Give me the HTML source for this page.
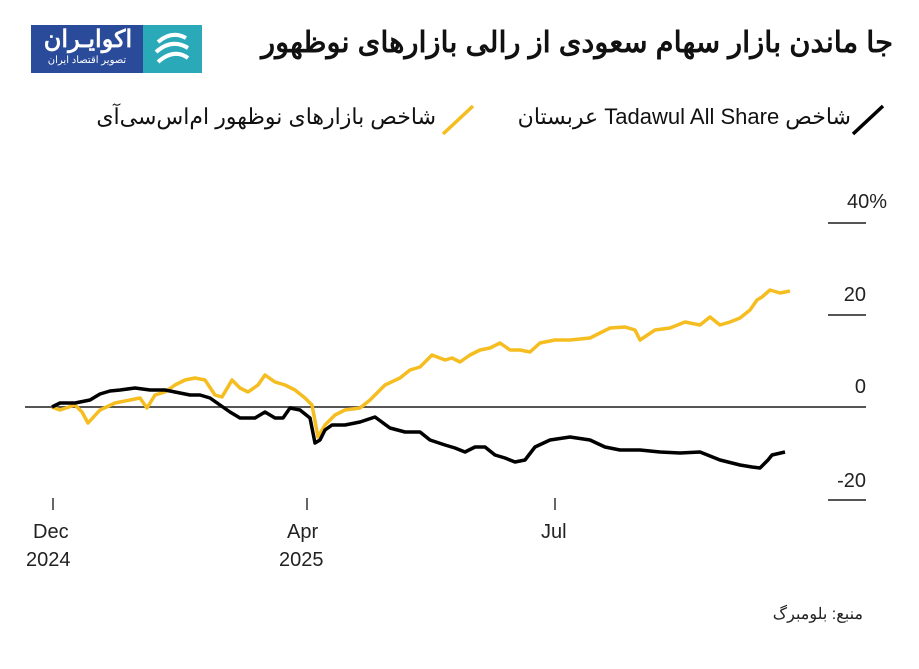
<!DOCTYPE html><html><head><meta charset="utf-8"><style>
body{margin:0;width:919px;height:669px;background:#fff;overflow:hidden;font-family:"Liberation Sans","Noto Sans CJK SC",sans-serif;position:relative}
.t{position:absolute;white-space:nowrap}
</style></head><body>
<div style="position:absolute;left:31px;top:25px;width:112px;height:48px;background:#2a4a9a"></div>
<div style="position:absolute;left:143px;top:25px;width:59px;height:48px;background:#2aaab8"></div>
<div class="t" style="left:38px;top:25px;color:#fff;font-size:24px;font-weight:bold;direction:rtl;width:100px;text-align:center">اکوایـران</div>
<div class="t" style="left:36px;top:55px;color:#fff;font-size:10px;direction:rtl;width:102px;text-align:center">تصویر اقتصاد ایران</div>
<svg style="position:absolute;left:150px;top:30px" width="45" height="38"><path d="M8 12 Q22 0 36 8 M6 22 Q22 8 38 18 M8 32 Q24 18 38 28" stroke="#fff" stroke-width="4" fill="none"/></svg>
<div class="t" style="right:26px;top:25px;font-size:29px;font-weight:bold;direction:rtl;color:#111">جا ماندن بازار سهام سعودی از رالی بازارهای نوظهور</div>
<svg style="position:absolute;left:850px;top:103px" width="36" height="34"><line x1="3" y1="31" x2="33" y2="3" stroke="#000" stroke-width="3.5"/></svg>
<div class="t" style="right:68px;top:104px;font-size:22px;direction:rtl;color:#111">شاخص Tadawul All Share عربستان</div>
<svg style="position:absolute;left:440px;top:103px" width="36" height="34"><line x1="3" y1="31" x2="33" y2="3" stroke="#f5bd1f" stroke-width="3.5"/></svg>
<div class="t" style="right:483px;top:104px;font-size:22px;direction:rtl;color:#111">شاخص بازارهای نوظهور ام‌اس‌سی‌آی</div>
<svg style="position:absolute;left:0;top:0" width="919" height="669">
<g stroke="#555" stroke-width="2"><line x1="828" y1="223" x2="866" y2="223"/><line x1="828" y1="315" x2="866" y2="315"/><line x1="828" y1="500" x2="866" y2="500"/><line x1="25" y1="407" x2="866" y2="407"/></g>
<g stroke="#333" stroke-width="1.5"><line x1="53" y1="498" x2="53" y2="510"/><line x1="307" y1="498" x2="307" y2="510"/><line x1="555" y1="498" x2="555" y2="510"/></g>
<g font-size="20" fill="#222" text-anchor="end" font-family="Liberation Sans"><text x="887" y="208">40%</text><text x="866" y="301">20</text><text x="866" y="393">0</text><text x="866" y="487">-20</text></g>
<g font-size="20" fill="#222" font-family="Liberation Sans"><text x="33" y="538">Dec</text><text x="26" y="566">2024</text><text x="287" y="538">Apr</text><text x="279" y="566">2025</text><text x="541" y="538">Jul</text></g>
<polyline fill="none" stroke="#f5bd1f" stroke-width="3.5" stroke-linejoin="round" points="52,407 60,410 75,405 82,412 88,423 100,410 115,403 130,400 140,398 147,408 155,395 165,392 175,385 185,380 195,378 205,380 215,395 222,397 232,380 240,388 248,392 258,385 265,375 275,382 285,385 295,390 305,398 312,405 318,437 325,425 335,415 345,410 360,408 370,400 385,385 400,378 410,370 420,367 432,355 445,360 452,358 460,362 470,355 480,350 490,348 500,343 510,350 520,350 530,352 540,343 555,340 570,340 590,338 600,333 610,328 625,327 635,330 640,340 655,330 670,328 685,322 700,325 710,317 720,325 730,322 740,318 750,310 757,300 762,297 770,290 780,293 790,291"/>
<polyline fill="none" stroke="#000" stroke-width="3.5" stroke-linejoin="round" points="52,407 60,403 75,403 90,400 100,394 110,391 120,390 135,388 150,390 165,390 175,392 190,395 200,395 210,398 220,405 230,412 240,418 255,418 265,412 275,418 283,418 290,408 300,410 310,418 315,443 320,440 325,430 332,425 345,425 360,422 375,417 390,428 405,432 420,432 430,440 445,445 455,448 465,452 475,447 485,447 495,455 505,458 515,462 525,460 535,447 550,440 570,437 590,440 605,447 620,450 640,450 660,452 680,453 700,452 720,460 740,465 752,467 760,468 768,460 772,455 785,452"/>
</svg>
<div class="t" style="right:56px;top:604px;font-size:16px;direction:rtl;color:#222">منبع: بلومبرگ</div>
</body></html>
